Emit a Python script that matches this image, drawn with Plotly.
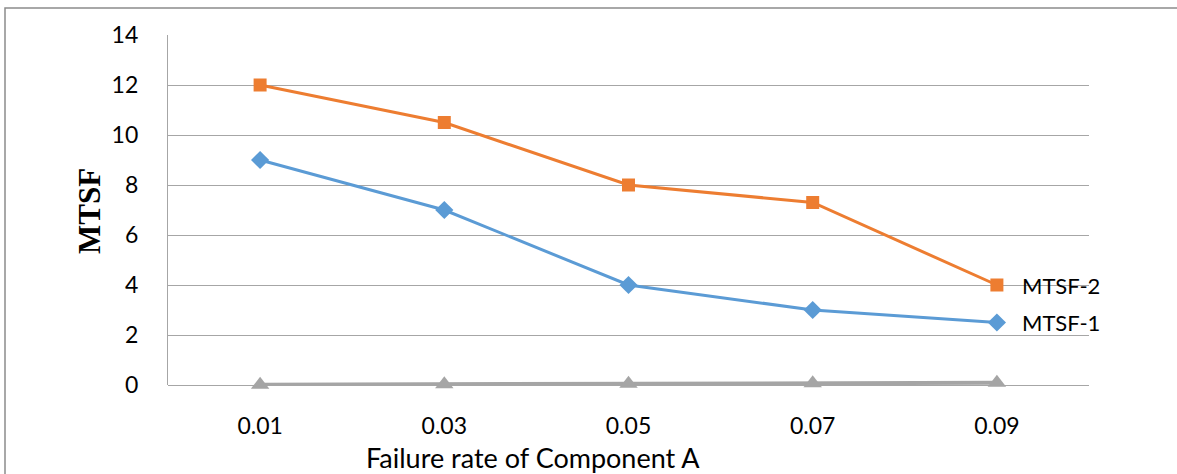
import plotly.graph_objects as go

categories = ["0.01", "0.03", "0.05", "0.07", "0.09"]
mtsf1 = [9, 7, 4, 3, 2.5]
mtsf2 = [12, 10.5, 8, 7.3, 4]
series3 = [0.01, 0.03, 0.05, 0.07, 0.09]
y_ticks = [0, 2, 4, 6, 8, 10, 12, 14]

W, H = 1177, 474
ML, MR, MT, MB = 168, 88, 35, 89
PW, PH = W - ML - MR, H - MT - MB

def px_x(p):
    return (p - ML) / PW

def px_y(p):
    return (H - MB - p) / PH

fig = go.Figure()
fig.add_trace(go.Scatter(x=categories, y=series3, mode="lines+markers",
                         line=dict(color="#A5A5A5", width=4),
                         marker=dict(symbol="triangle-up", size=16, color="#A5A5A5"),
                         name="Series3", cliponaxis=False))
fig.add_trace(go.Scatter(x=categories, y=mtsf1, mode="lines+markers",
                         line=dict(color="#5B9BD5", width=3),
                         marker=dict(symbol="diamond", size=14, color="#5B9BD5"),
                         name="MTSF-1"))
fig.add_trace(go.Scatter(x=categories, y=mtsf2, mode="lines+markers",
                         line=dict(color="#ED7D31", width=3),
                         marker=dict(symbol="square", size=13, color="#ED7D31"),
                         name="MTSF-2"))

font_main = "Lato, 'Open Sans', sans-serif"

last_idx = len(categories) - 1
for name, vals in (("MTSF-2", mtsf2), ("MTSF-1", mtsf1)):
    fig.add_annotation(x=last_idx, y=vals[-1], text=name, showarrow=False,
                       xanchor="left", yanchor="middle", xshift=23,
                       font=dict(family=font_main, size=22, color="#000000"))

fig.add_annotation(xref="paper", yref="paper", x=px_x(89), y=px_y(211),
                   text="<b>MTSF</b>", textangle=-90, showarrow=False,
                   xanchor="center", yanchor="middle",
                   font=dict(family="'Liberation Serif', 'Times New Roman', serif", size=31, color="#000000"))
fig.add_annotation(xref="paper", yref="paper", x=px_x(533), y=px_y(457),
                   text="Failure rate of Component A", showarrow=False,
                   xanchor="center", yanchor="middle",
                   font=dict(family=font_main, size=27, color="#000000"))

fig.add_shape(type="rect", xref="paper", yref="paper",
              x0=px_x(5), y0=px_y(8), x1=px_x(W + 20), y1=px_y(H + 20),
              line=dict(color="#8C8C8C", width=1.5), fillcolor="rgba(0,0,0,0)", layer="below")

fig.update_layout(
    width=W, height=H,
    margin=dict(l=ML, r=MR, t=MT, b=MB),
    paper_bgcolor="white", plot_bgcolor="white",
    showlegend=False,
    font=dict(family=font_main, size=23, color="#000000"),
)
fig.update_xaxes(type="category", range=[-0.5, 4.5], showgrid=False,
                 showline=False, zeroline=False,
                 ticks="outside", ticklen=20, tickcolor="rgba(0,0,0,0)",
                 tickfont=dict(family=font_main, size=23, color="#000000"))
fig.update_yaxes(range=[0, 14], tickvals=y_ticks, showgrid=True, gridcolor="#A6A6A6",
                 gridwidth=1.3, zeroline=True, zerolinecolor="#A6A6A6", zerolinewidth=1.3,
                 showline=True, linecolor="#A6A6A6", linewidth=1.3,
                 ticks="outside", ticklen=24, tickcolor="rgba(0,0,0,0)",
                 tickfont=dict(family=font_main, size=23, color="#000000"))

fig.write_html("out.html")
